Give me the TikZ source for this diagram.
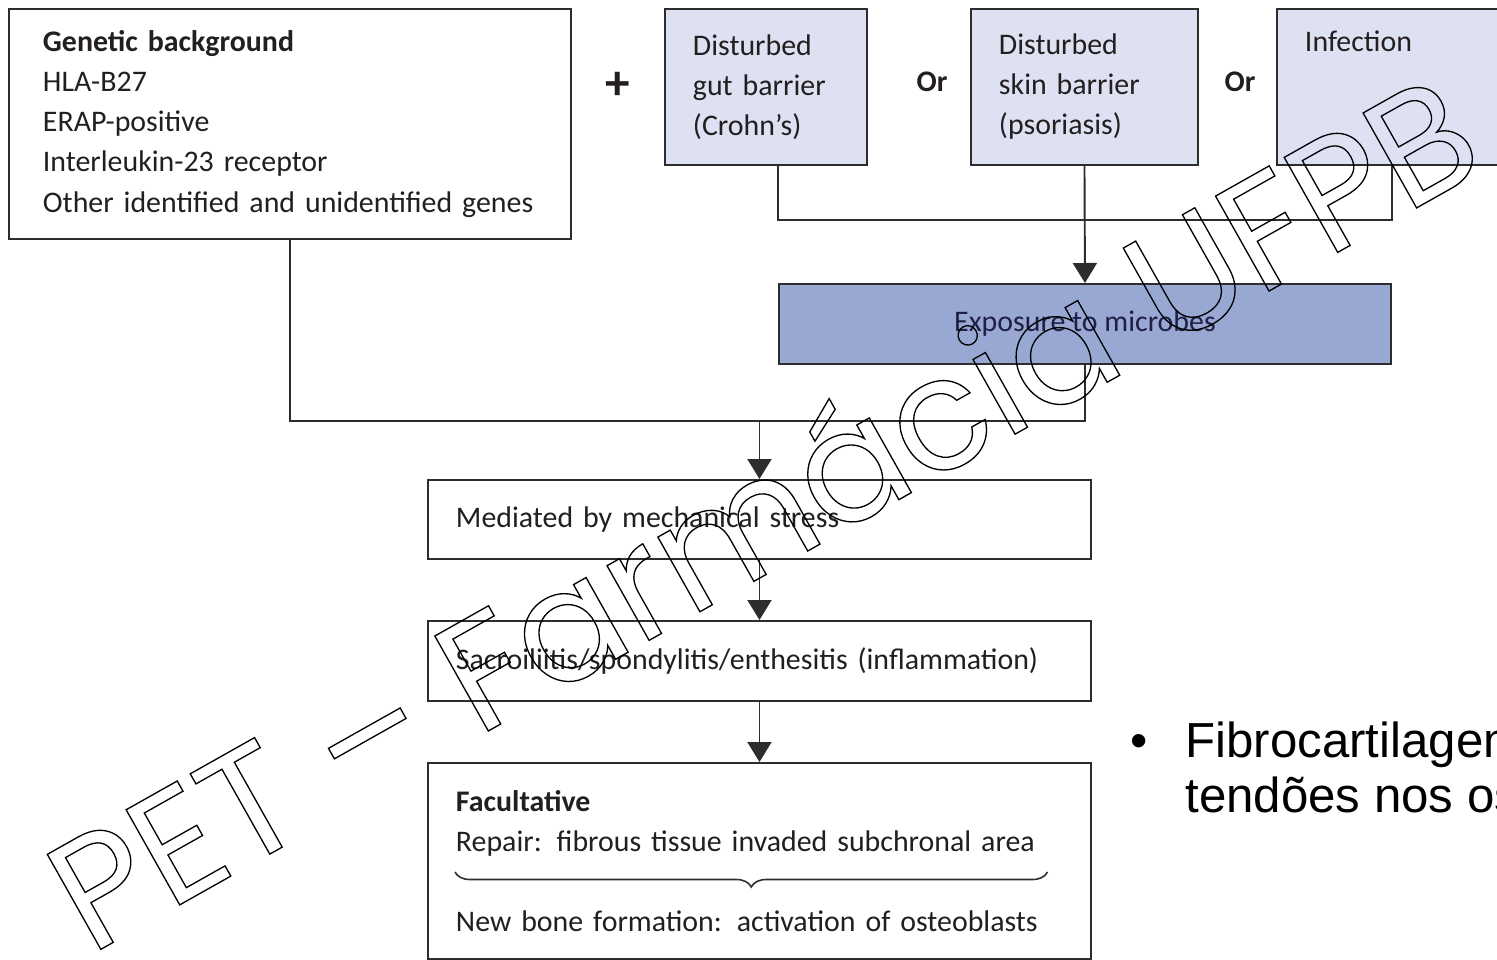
\documentclass[tikz,border=0pt]{standalone}
\usepackage{fontspec}
\setmainfont{Carlito}
\newfontfamily\slidefont{Liberation Sans}
\newfontfamily\markfont{Poppins}
\usepackage{tikz}
\usetikzlibrary{arrows.meta, decorations.pathreplacing}

\definecolor{barrierfill}{RGB}{222,225,241}
\definecolor{exposurefill}{RGB}{153,167,211}
\definecolor{boxline}{RGB}{45,45,45}
\definecolor{boxtext}{RGB}{35,31,32}
\definecolor{exposuretext}{RGB}{30,32,70}

\newcommand{\diagfont}{\fontsize{17}{22.8}\selectfont}
\newcommand{\outlinetext}[1]{%
  \special{pdf:literal direct 1 Tr 0 0 0 RG 0.75 w}#1\special{pdf:literal direct 0 Tr}}

\tikzset{
  flowbox/.style={
    draw=boxline, line width=1.1pt, align=left, anchor=north west,
    font=\diagfont, text=boxtext, fill=white, inner ysep=0pt
  },
  barrierbox/.style={
    flowbox, fill=barrierfill, inner xsep=0.56cm, minimum height=3.12cm
  },
  stagebox/.style={
    flowbox, inner xsep=0.56cm, text width=12.14cm
  },
  flowline/.style={
    line width=1.1pt, draw=boxline
  },
  flowarrow/.style={
    flowline, -{Triangle[length=4mm, width=4.8mm]}
  },
  oplabel/.style={
    font=\diagfont\bfseries, text=boxtext, inner sep=0pt
  },
  slidetext/.style={
    font=\slidefont\fontsize{28}{31}\selectfont, inner sep=0pt
  },
  watermark/.style={
    font=\markfont\fontsize{89}{91}\selectfont, inner sep=0pt
  },
}

\begin{document}
\begin{tikzpicture}
  \useasboundingbox (0,0) rectangle (29.94,-19.2);
  \clip (0,0) rectangle (29.94,-19.2);

  % Causes
  \node[flowbox, inner xsep=0.68cm, text width=9.88cm, minimum height=4.6cm]
    (genetic) at (0.16,-0.16)
    {\textbf{Genetic background}\\HLA-B27\\ERAP-positive\\
     Interleukin-23 receptor\\Other identified and unidentified genes};
  \node[oplabel, font=\fontsize{28}{28}\selectfont\bfseries] (plus) at (12.36,-1.72) {+};
  \node[barrierbox, text width=2.92cm] (gut) at (13.28,-0.16)
    {Disturbed\\gut barrier\\(Crohn’s)};
  \node[oplabel] (or1) at (18.64,-1.64) {Or};
  \node[barrierbox, text width=3.42cm] (skin) at (19.4,-0.16)
    {Disturbed\\skin barrier\\(psoriasis)};
  \node[oplabel] (or2) at (24.8,-1.64) {Or};
  \node[barrierbox, text width=4.88cm] (infection) at (25.52,-0.16)
    {Infection\\\strut\\\strut};

  % Exposure
  \node[flowbox, fill=exposurefill, text=exposuretext, align=center,
    minimum width=12.24cm, minimum height=1.6cm] (exposure) at (15.56,-5.66)
    {Exposure to microbes};

  % Disease course
  \node[stagebox, minimum height=1.58cm] (mediated) at (8.54,-9.58)
    {Mediated by mechanical stress};
  \node[stagebox, minimum height=1.6cm] (inflam) at (8.54,-12.4)
    {Sacroiliitis/spondylitis/enthesitis (inflammation)};
  \node[stagebox, minimum height=3.92cm] (facult) at (8.54,-15.24)
    {\textbf{Facultative}\\Repair: fibrous tissue invaded subchronal area\\[0.8cm]
     New bone formation: activation of osteoblasts};
  \coordinate (braceL) at (9.1,-17.44);
  \coordinate (braceR) at (20.95,-17.44);
  \draw[line width=0.9pt, boxline, decorate,
    decoration={brace, mirror, amplitude=0.3cm}] (braceL) -- (braceR);

  % Connectors
  \coordinate (bus) at (0,-4.4);
  \coordinate (merge) at (15.17,-8.42);
  \draw[flowline] (gut.south -| exposure.north west) |- (bus -| exposure.north east)
    -- (infection.south -| exposure.north east);
  \draw[flowarrow] (skin.south) -- (exposure.north);
  \draw[flowline] (genetic.south) |- (exposure.south |- merge) -- (exposure.south);
  \draw[flowarrow] (merge -| mediated.north) -- (mediated.north);
  \draw[flowarrow] (mediated.south) -- (inflam.north);
  \draw[flowarrow] (inflam.south) -- (facult.north);

  % Slide text
  \node[slidetext, anchor=base west] (bullet) at (22.6,-15.14) {•};
  \node[slidetext, anchor=base west] (fibro) at (23.7,-15.14) {Fibrocartilagem};
  \node[slidetext, anchor=base west] (tendoes) at ([yshift=-1.1cm]fibro.base west)
    {tendões nos os};

  % Watermark
  \node[watermark, rotate=29.4, anchor=base] (mark) at (15.8,-11.22)
    {\outlinetext{PET – Farmácia UFPB}};
\end{tikzpicture}
\end{document}
